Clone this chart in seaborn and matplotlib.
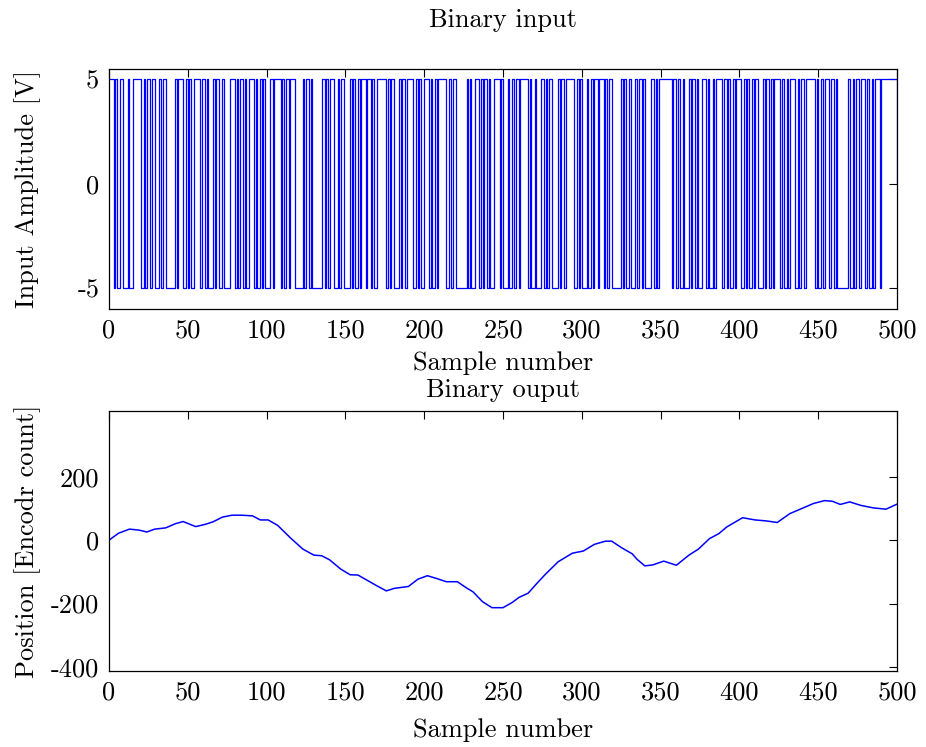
import numpy as np
import pandas as pd
import matplotlib
matplotlib.use("Agg")
import matplotlib.pyplot as plt
import seaborn as sns

# ---- data -------------------------------------------------------------
# run lengths of the +5 / -5 binary input (starting with +5)
input_runs = [3,1,1,2,2,3,1,2,5,2, 1,1,2,1,2,3,1,1,2,6, 1,1,3,2,1,1,1,2,4,1,
              2,1,1,3,1,1,2,2,1,4, 3,1,1,1,2,1,1,2,3,1, 1,2,1,1,1,3,2,1,4,1,
              1,1,2,1,3,5,1,1,2,1, 1,6,2,1,1,1,3,2,1,1, 2,4,1,1,1,2,1,1,3,1,
              2,1,1,2,6,1,1,1,2,3, 1,1,2,1,4,2,1,1,1,2, 3,1,1,2,1,1,5,2,1,1,
              2,7,1,1,1,2,3,1,1,1, 2,1,1,2,4,1,1,3,1,2, 1,1,2,1,5,1,1,2,1,3,
              2,1,1,1,2,4,1,1,2,1, 5,2,1,1,1,3,1,2,1,1, 2,1,3,1,1,1,2,6,1,1,
              1,2,1,3,1,1,2,1,1,4, 2,1,1,1,8,1,2,1,1,2, 1,3,1,1,2,1,1,2,3,1,
              1,2,1,1,4,1,2,1,1,2, 1,1,3,2,1,1,1,2,1,1, 2,3,1,1,2,1,1,1,4,1,
              1,2,1,1,3,2,1,1,2,1, 6,1,1,2,1,1,3,1,2,1, 1,7,1,2,1,1,2,1,3,1,
              1,2,1,1,3,1,10]
input_levels = [5, -5]

# position output
pos_sample = [0, 6, 13, 19, 24, 29, 36, 42, 47, 50, 55, 61, 66, 72, 78, 84, 91, 96,
              101, 107, 115, 123, 130, 135, 140, 147, 153, 158, 164, 170, 176, 181,
              190, 196, 202, 208, 214, 221, 227, 231, 237, 243, 250, 256, 260, 266,
              271, 277, 285, 294, 301, 308, 315, 319, 325, 332, 335, 340, 345, 352,
              360, 368, 374, 381, 387, 392, 402, 410, 417, 424, 432, 440, 447, 454,
              459, 464, 470, 477, 485, 493, 500]
pos_value = [0, 22, 35, 32, 26, 35, 39, 52, 59, 53, 43, 50, 58, 73, 79, 79, 77, 64,
             64, 47, 8, -28, -47, -49, -62, -91, -109, -110, -127, -144, -160, -152,
             -146, -123, -112, -121, -131, -131, -151, -163, -194, -213, -213, -196,
             -181, -167, -139, -107, -68, -41, -34, -13, -3, -3, -23, -43, -60, -81,
             -78, -66, -79, -47, -28, 5, 21, 42, 71, 64, 61, 56, 84, 101, 116, 125,
             123, 113, 121, 110, 102, 98, 114]

# ---- build series -----------------------------------------------------
vals = []
for i, r in enumerate(input_runs):
    vals += [input_levels[i % 2]] * r
vals = vals[:500]
vals = vals + [0]
df_in = pd.DataFrame({"n": np.arange(len(vals)), "v": vals})
df_out = pd.DataFrame({"n": pos_sample, "v": pos_value})

# ---- style ------------------------------------------------------------
sns.set_style("white")
plt.rcParams["font.family"] = ["cmr10", "DejaVu Serif"]
plt.rcParams["axes.unicode_minus"] = False
plt.rcParams["mathtext.fontset"] = "cm"
plt.rcParams["text.color"] = "black"
plt.rcParams["axes.labelcolor"] = "black"
plt.rcParams["xtick.color"] = "black"
plt.rcParams["ytick.color"] = "black"
FS = 19

fig = plt.figure(figsize=(9.26, 7.47), dpi=100)
ax1 = fig.add_axes([0.1177, 0.5863, 0.8510, 0.3213])
ax2 = fig.add_axes([0.1177, 0.1017, 0.8510, 0.3481])

sns.lineplot(data=df_in, x="n", y="v", ax=ax1, color="#0000ff", lw=0.9,
             drawstyle="steps-post", estimator=None)
sns.lineplot(data=df_out, x="n", y="v", ax=ax2, color="#0000ff", lw=1.1,
             estimator=None)

ax1.set_xlim(0, 500)
ax1.set_ylim(-6, 5.5)
ax1.set_yticks([-5, 0, 5])
ax1.set_title("Binary input", fontsize=FS, pad=30, color="black")
ax1.set_xlabel("Sample number", fontsize=FS, labelpad=6)
ax1.set_ylabel("Input Amplitude [V]", fontsize=FS)

ax2.set_xlim(0, 500)
ax2.set_ylim(-413, 408)
ax2.set_yticks([-400, -200, 0, 200])
ax2.set_title("Binary ouput", fontsize=FS, pad=10, color="black")
ax2.set_xlabel("Sample number", fontsize=FS, labelpad=10)
ax2.set_ylabel("Position [Encodr count]", fontsize=FS)

for ax in (ax1, ax2):
    ax.set_xticks(range(0, 501, 50))
    ax.tick_params(direction="in", top=True, right=True, length=6, width=0.8,
                   labelsize=FS, pad=7, colors="black")
    ax.yaxis.set_label_coords(-0.086, 0.5)
    for s in ax.spines.values():
        s.set_color("black")
        s.set_linewidth(0.9)

fig.savefig("out.png", dpi=100, facecolor="white")
